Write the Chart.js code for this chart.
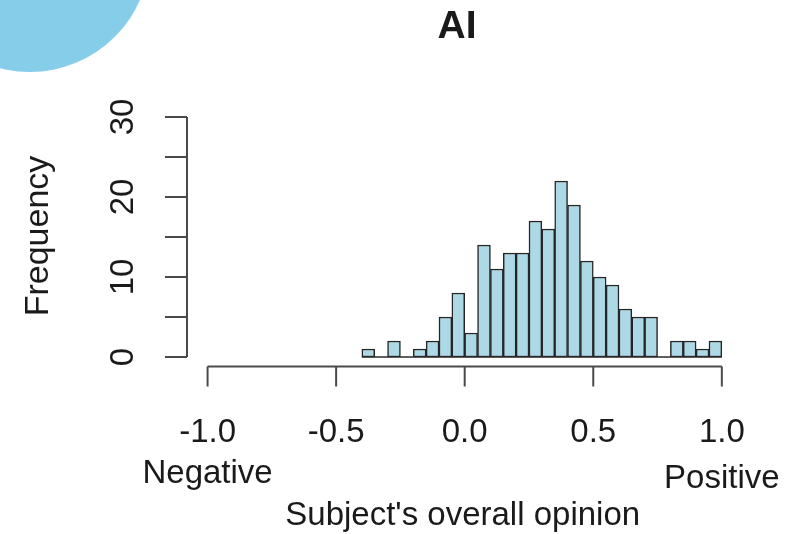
<!DOCTYPE html>
<html><head><meta charset="utf-8">
<script src="https://cdn.jsdelivr.net/npm/chart.js@4"></script>
<style>
html,body{margin:0;padding:0;background:#fff;overflow:hidden}
#wrap{position:relative;width:802px;height:534px}
#circle{position:absolute;left:-90px;top:-168px;width:240px;height:240px;border-radius:50%;background:#86cdea}
canvas{position:absolute;left:0;top:0}
</style></head><body>
<div id="wrap"><div id="circle"></div><canvas id="c" width="802" height="534"></canvas></div>
<script>
// Histogram data
const breaks = [-0.40,-0.35,-0.30,-0.25,-0.20,-0.15,-0.10,-0.05,0.00,0.05,0.10,0.15,0.20,0.25,0.30,0.35,0.40,0.45,0.50,0.55,0.60,0.65,0.70,0.75,0.80,0.85,0.90,0.95,1.00];
const counts = [1,0,2,0,1,2,5,8,3,14,11,13,13,17,16,22,19,12,10,9,6,5,5,0,2,2,1,2];
const xTicks = [-1.0,-0.5,0.0,0.5,1.0];
const xTickLabels = ['-1.0','-0.5','0.0','0.5','1.0'];
const yTicks = [0,5,10,15,20,25,30];
const yTickLabels = ['0','','10','','20','','30'];
const titleText = 'AI';
const xTitle = "Subject's overall opinion";
const yTitle = 'Frequency';
const leftEndLabel = 'Negative';
const rightEndLabel = 'Positive';

const FONT = '"Liberation Sans", Arial, sans-serif';

const axesPlugin = {
  id: 'rAxes',
  afterDraw(chart) {
    const ctx = chart.ctx, ax = chart.scales.x, ay = chart.scales.y, area = chart.chartArea;
    ctx.save();
    // baseline of histogram (zero bins)
    ctx.strokeStyle = '#2b2b2b'; ctx.lineWidth = 1.5;
    ctx.beginPath();
    ctx.moveTo(ax.getPixelForValue(breaks[0]), ay.getPixelForValue(0));
    ctx.lineTo(ax.getPixelForValue(breaks[breaks.length-1]), ay.getPixelForValue(0));
    ctx.stroke();

    ctx.strokeStyle = '#4a4a4a'; ctx.lineWidth = 2;
    // x axis
    const yA = area.bottom;
    ctx.beginPath();
    ctx.moveTo(ax.getPixelForValue(xTicks[0]), yA);
    ctx.lineTo(ax.getPixelForValue(xTicks[xTicks.length-1]), yA);
    xTicks.forEach(v => { const p = ax.getPixelForValue(v); ctx.moveTo(p, yA); ctx.lineTo(p, yA + 20); });
    ctx.stroke();
    // y axis
    const xA = area.left;
    ctx.beginPath();
    ctx.moveTo(xA, ay.getPixelForValue(yTicks[0]));
    ctx.lineTo(xA, ay.getPixelForValue(yTicks[yTicks.length-1]));
    yTicks.forEach(v => { const p = ay.getPixelForValue(v); ctx.moveTo(xA, p); ctx.lineTo(xA - 22, p); });
    ctx.stroke();

    ctx.fillStyle = '#1a1a1a';
    ctx.font = '33px ' + FONT;
    ctx.textAlign = 'center'; ctx.textBaseline = 'alphabetic';
    xTicks.forEach((v, i) => ctx.fillText(xTickLabels[i], ax.getPixelForValue(v), 442));
    ctx.fillText(leftEndLabel, ax.getPixelForValue(xTicks[0]), 483);
    ctx.fillText(rightEndLabel, ax.getPixelForValue(xTicks[xTicks.length-1]), 488);
    ctx.fillText(xTitle, (area.left + area.right) / 2 - 2, 525);

    yTicks.forEach((v, i) => {
      if (!yTickLabels[i]) return;
      ctx.save();
      ctx.translate(133, ay.getPixelForValue(v));
      ctx.rotate(-Math.PI / 2);
      ctx.fillText(yTickLabels[i], 0, 0);
      ctx.restore();
    });
    ctx.save();
    ctx.font = '34px ' + FONT;
    ctx.translate(48, 236);
    ctx.rotate(-Math.PI / 2);
    ctx.fillText(yTitle, 0, 0);
    ctx.restore();

    ctx.font = 'bold 39px ' + FONT;
    ctx.fillText(titleText, 457, 38);
    ctx.restore();
  }
};

new Chart(document.getElementById('c'), {
  type: 'bar',
  data: {
    datasets: [{
      data: counts.map((c, i) => ({ x: (breaks[i] + breaks[i + 1]) / 2, y: c })),
      backgroundColor: '#add8e6',
      borderColor: '#262626',
      borderWidth: 1.5,
      borderSkipped: false,
      barPercentage: 1,
      categoryPercentage: 1
    }]
  },
  options: {
    responsive: false,
    animation: false,
    layout: { padding: { left: 187, right: 59.6, top: 107.4, bottom: 167.4 } },
    plugins: { legend: { display: false }, tooltip: { enabled: false }, title: { display: false } },
    scales: {
      x: { type: 'linear', min: -1.08, max: 1.08, display: false, offset: false },
      y: { min: -1.2, max: 31.2, display: false }
    }
  },
  plugins: [axesPlugin]
});
</script>
</body></html>
